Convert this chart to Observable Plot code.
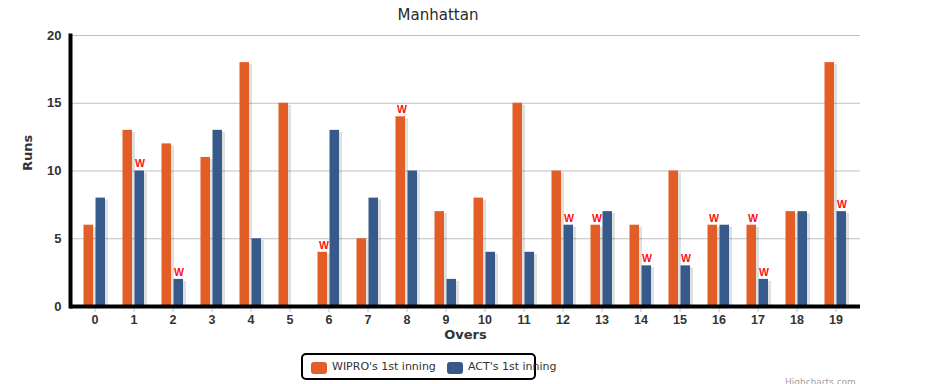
<!DOCTYPE html>
<html><head><meta charset="utf-8">
<script src="https://cdn.jsdelivr.net/npm/d3@7"></script>
<script src="https://cdn.jsdelivr.net/npm/@observablehq/plot@0.6"></script>
<style>
body{margin:0;background:#fff;overflow:hidden;}
#wrap{position:relative;width:931px;height:384px;overflow:hidden;}
#title{position:absolute;left:0;top:5px;width:876px;text-align:center;font:15px "DejaVu Sans",sans-serif;line-height:20px;color:#2a2a2a;}
#legend{position:absolute;left:301px;top:353px;width:235px;height:27px;box-sizing:border-box;border:2px solid #000;border-radius:5px;background:#fff;font:11px "DejaVu Sans",sans-serif;color:#333;}
#legend .sw{position:absolute;top:7px;width:16px;height:12px;border-radius:3px;}
#legend .lb{position:absolute;top:5px;line-height:14px;white-space:nowrap;}
#credit{position:absolute;left:785px;top:377px;font:9px "DejaVu Sans",sans-serif;color:#a0a0a0;}
#chart{position:absolute;left:0;top:0;}
</style></head><body>
<div id="wrap">
  <div id="chart"></div>
  <div id="title"></div>
  <div id="legend"></div>
  <div id="credit">Highcharts.com</div>
</div>
<script>
const title = "Manhattan";
const overs = [0,1,2,3,4,5,6,7,8,9,10,11,12,13,14,15,16,17,18,19];
const wipro = [6,13,12,11,18,15,4,5,14,7,8,15,10,6,6,10,6,6,7,18];
const act   = [8,10,2,13,5,0,13,8,10,2,4,4,6,7,3,3,6,2,7,7];
const wiproWickets = [6,8,13,16,17];
const actWickets = [1,2,12,14,15,17,19];
const yTicks = [0,5,10,15,20];
const gridTicks = [5,10,15,20];
const seriesNames = ["WIPRO's 1st inning","ACT's 1st inning"];
const colors = ["#e35d26","#385a8b"];

document.getElementById("title").textContent = title;

const tickFont = "'Liberation Sans', Arial, sans-serif";
const chart = Plot.plot({
  width: 931,
  height: 350,
  marginLeft: 70,
  marginRight: 71,
  marginTop: 35,
  marginBottom: 44,
  style: {fontFamily: tickFont, background: "transparent", overflow: "visible"},
  x: {type: "band", domain: overs, padding: 0},
  y: {domain: [0, 20]},
  marks: [
    Plot.ruleY(gridTicks, {stroke: "#c0c0c0", strokeWidth: 1}),
    // shadows
    Plot.barY(overs, {x: d => d, y: d => wipro[d], insetLeft: 10, insetRight: 18, dy: 2, fill: "#000", fillOpacity: 0.12}),
    Plot.barY(overs, {x: d => d, y: d => act[d], insetLeft: 22, insetRight: 6, dy: 2, fill: "#000", fillOpacity: 0.12}),
    // bars
    Plot.barY(overs, {x: d => d, y: d => wipro[d], insetLeft: 8.5, insetRight: 21, fill: colors[0]}),
    Plot.barY(overs, {x: d => d, y: d => act[d], insetLeft: 20.5, insetRight: 9, fill: colors[1]}),
    // wickets
    Plot.text(wiproWickets, {x: d => d, y: d => wipro[d], text: () => "W", dx: -5, dy: -7, fill: "#ff1010", fontSize: 10.5, fontWeight: "bold", fontFamily: tickFont}),
    Plot.text(actWickets, {x: d => d, y: d => act[d], text: () => "W", dx: 6, dy: -7, fill: "#ff1010", fontSize: 10.5, fontWeight: "bold", fontFamily: tickFont}),
    // axes
    Plot.axisY({ticks: yTicks, tickSize: 0, tickPadding: 9, label: null, fontSize: 13, fontWeight: "bold", fontFamily: tickFont, fill: "#333"}),
    Plot.axisX({tickSize: 6, tickPadding: 3, label: null, fontSize: 12.5, fontWeight: "bold", fontFamily: tickFont, fill: "#333", stroke: "#b8c4d4"}),
    Plot.ruleY([0], {stroke: "#000", strokeWidth: 4}),
    Plot.frame({anchor: "left", stroke: "#000", strokeWidth: 4}),
    Plot.text(["Runs"], {frameAnchor: "left", dx: -43, rotate: -90, text: d => d, fontSize: 13, fontWeight: "bold", fontFamily: "DejaVu Sans", fill: "#333"}),
    Plot.text(["Overs"], {frameAnchor: "bottom", dy: 32, lineAnchor: "bottom", text: d => d, fontSize: 13, fontWeight: "bold", fontFamily: "DejaVu Sans", fill: "#333"})
  ]
});
document.getElementById("chart").appendChild(chart);

const legend = document.getElementById("legend");
const legendPos = [[8, 29], [144, 165]];
seriesNames.forEach((name, i) => {
  const sw = document.createElement("div");
  sw.className = "sw";
  sw.style.left = legendPos[i][0] + "px";
  sw.style.background = colors[i];
  legend.appendChild(sw);
  const lb = document.createElement("div");
  lb.className = "lb";
  lb.style.left = legendPos[i][1] + "px";
  lb.textContent = name;
  legend.appendChild(lb);
});
</script>
</body></html>
